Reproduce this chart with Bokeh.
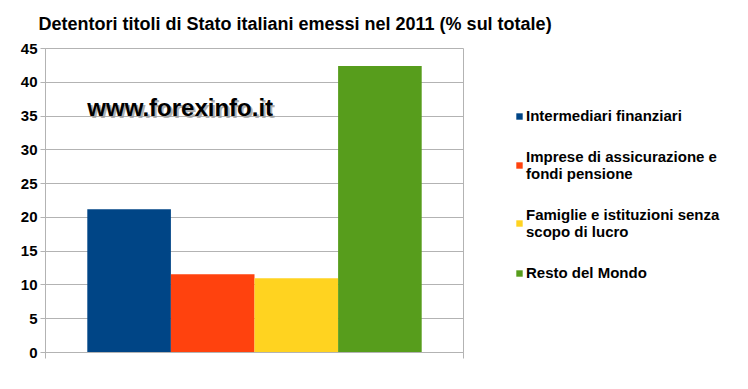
from bokeh.plotting import figure
from bokeh.models import ColumnDataSource, Range1d, FixedTicker, Legend, LegendItem
from bokeh.core.properties import value
from bokeh.embed import file_html
from bokeh.resources import INLINE

title_text = "Detentori titoli di Stato italiani emessi nel 2011 (% sul totale)"
categories = [
    "Intermediari finanziari",
    "Imprese di assicurazione e\nfondi pensione",
    "Famiglie e istituzioni senza\nscopo di lucro",
    "Resto del Mondo",
]
values = [21.2, 11.6, 11.0, 42.4]
colors = ["#004586", "#ff420e", "#ffd320", "#579d1c"]
y_ticks = [0, 5, 10, 15, 20, 25, 30, 35, 40, 45]
watermark = "www.forexinfo.it"

FONT = "Liberation Sans"
GRID = "#b3b3b3"

xs = list(range(1, len(categories) + 1))
src = ColumnDataSource(dict(x=xs, top=values, color=colors, label=categories))
x_end = len(categories) + 1

p = figure(
    frame_width=418, frame_height=304,
    min_border_left=45, min_border_top=48, min_border_bottom=29, min_border_right=277,
    x_range=Range1d(0, x_end), y_range=Range1d(0, 45),
    output_backend="svg", toolbar_location=None,
)
p.background_fill_color = "white"
p.border_fill_color = "white"
p.outline_line_color = GRID

r = p.vbar(x="x", top="top", width=1, bottom=0, color="color", source=src, line_color=None)

# watermark with shadow
p.text(x=[0.5], y=[36.3], text=[watermark], text_font=value(FONT), text_font_style="bold",
       text_font_size="24px", text_baseline="middle", text_color="#9a9a9a",
       x_offset=2, y_offset=2, text_alpha=0.8)
p.text(x=[0.5], y=[36.3], text=[watermark], text_font=value(FONT), text_font_style="bold",
       text_font_size="24px", text_baseline="middle", text_color="black")

# axes
p.xaxis.ticker = FixedTicker(ticks=[0, x_end])
p.xaxis.major_label_overrides = {0: "", x_end: ""}
p.xaxis.major_tick_out = 6
p.xaxis.major_tick_in = 0
p.xaxis.minor_tick_line_color = None
p.xaxis.axis_line_color = GRID
p.xaxis.major_tick_line_color = GRID
p.xaxis.major_label_standoff = 0

p.yaxis.ticker = FixedTicker(ticks=y_ticks)
p.yaxis.major_label_text_font = FONT
p.yaxis.major_label_text_font_style = "bold"
p.yaxis.major_label_text_font_size = "15px"
p.yaxis.major_label_text_color = "black"
p.yaxis.major_tick_out = 5
p.yaxis.major_tick_in = 0
p.yaxis.minor_tick_line_color = None
p.yaxis.axis_line_color = GRID
p.yaxis.major_tick_line_color = GRID
p.yaxis.major_label_standoff = 3

p.xgrid.grid_line_color = None
p.ygrid.grid_line_color = GRID
p.ygrid.ticker = FixedTicker(ticks=y_ticks)

# title
p.title.text = title_text
p.title.text_font = FONT
p.title.text_font_style = "bold"
p.title.text_font_size = "18px"
p.title.text_color = "black"
p.title.align = "left"
p.title.offset = -7
p.title.vertical_align = "top"
p.title.standoff = 26

# legend
items = [LegendItem(label=c, renderers=[r], index=i) for i, c in enumerate(categories)]
legend = Legend(items=items, location=(52, 71), orientation="vertical",
                border_line_color=None, background_fill_alpha=0,
                label_text_font=FONT, label_text_font_style="bold",
                label_text_font_size="15px", label_text_color="black",
                glyph_width=8, glyph_height=8,
                label_standoff=3, spacing=24, padding=0, margin=0,
                label_text_line_height=1.45)
p.add_layout(legend, "right")

open("out.html", "w").write(file_html(p, INLINE))
